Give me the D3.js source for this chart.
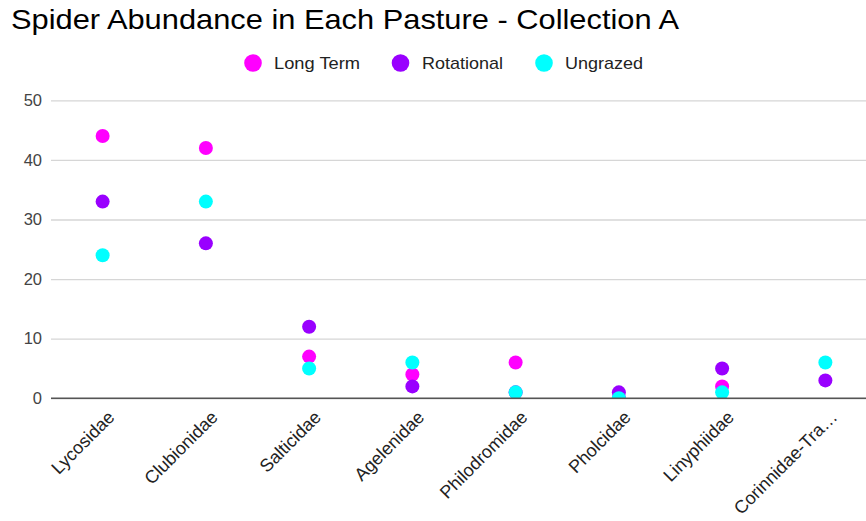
<!DOCTYPE html>
<html>
<head>
<meta charset="utf-8">
<script src="https://cdn.jsdelivr.net/npm/d3@7"></script>
<style>
  html, body { margin: 0; padding: 0; background: #fff; }
  svg { display: block; font-family: "Liberation Sans", Arial, sans-serif; }
</style>
</head>
<body>
<svg id="chart" width="866" height="521"></svg>
<script>
// Spider families (x categories)
const families = ["Lycosidae", "Clubionidae", "Salticidae", "Agelenidae",
                  "Philodromidae", "Pholcidae", "Linyphiidae", "Corinnidae-Tra\u2026"];

// Counts per pasture type (null = no record)
const longTerm   = [44, 42, 7, 4, 6, 0, 2, null];
const rotational = [33, 26, 12, 2, 1, 1, 5, 3];
const ungrazed   = [24, 33, 5, 6, 1, 0, 1, 6];

const seriesNames  = ["Long Term", "Rotational", "Ungrazed"];
const seriesColors = ["#ff00ff", "#9900ff", "#00ffff"];
const yTicks = [0, 10, 20, 30, 40, 50];

const series = [longTerm, rotational, ungrazed].map((vals, i) => ({
  name: seriesNames[i], color: seriesColors[i], values: vals
}));

const svg = d3.select("#chart");
const plot = { left: 51, right: 877, top: 100.3, bottom: 398.3 };

const x = d3.scaleBand().domain(families).range([plot.left, plot.right]);
const y = d3.scaleLinear().domain([0, 50]).range([plot.bottom, plot.top]);

// Title
svg.append("text")
  .attr("x", 11).attr("y", 28.5)
  .attr("font-size", 28.5)
  .attr("fill", "#000")
  .attr("textLength", 668)
  .attr("lengthAdjust", "spacingAndGlyphs")
  .text("Spider Abundance in Each Pasture - Collection A");

// Legend
const legendCx = [253, 400.5, 544];
const legendTx = [274, 422, 565];
const legendW  = [86, 81, 78];
const legend = svg.append("g");
series.forEach((s, i) => {
  legend.append("circle")
    .attr("cx", legendCx[i]).attr("cy", 63).attr("r", 8.8)
    .attr("fill", s.color);
  legend.append("text")
    .attr("x", legendTx[i]).attr("y", 69)
    .attr("font-size", 17).attr("fill", "#222")
    .attr("textLength", legendW[i])
    .attr("lengthAdjust", "spacingAndGlyphs")
    .text(s.name);
});

// Gridlines and y-axis labels
const yAxis = d3.axisLeft(y).tickValues(yTicks)
  .tickSize(-(plot.right - plot.left)).tickPadding(9);
const yg = svg.append("g").attr("transform", `translate(${plot.left},0)`).call(yAxis);
yg.select(".domain").remove();
yg.selectAll(".tick line").attr("stroke", "#d6d6d6").attr("stroke-width", 1.3);
yg.selectAll(".tick text")
  .attr("font-size", 16.5).attr("fill", "#444")
  .attr("font-family", "'Liberation Sans', Arial, sans-serif");

// Points, clipped to the plot area
svg.append("clipPath").attr("id", "plot-clip")
  .append("rect")
  .attr("x", plot.left).attr("y", plot.top - 20)
  .attr("width", plot.right - plot.left).attr("height", plot.bottom - plot.top + 20);

const pts = svg.append("g").attr("clip-path", "url(#plot-clip)");
series.forEach(s => {
  pts.selectAll(null)
    .data(families.map((f, j) => ({ f, v: s.values[j] })).filter(d => d.v !== null))
    .join("circle")
    .attr("cx", d => x(d.f) + x.bandwidth() / 2)
    .attr("cy", d => y(d.v))
    .attr("r", 7)
    .attr("fill", s.color);
});

// Baseline
svg.append("line")
  .attr("x1", plot.left).attr("x2", plot.right)
  .attr("y1", y(0)).attr("y2", y(0))
  .attr("stroke", "#555").attr("stroke-width", 1.6);

// Category labels, rotated
const xAxis = d3.axisBottom(x).tickSize(0).tickPadding(0);
const xg = svg.append("g").attr("transform", `translate(0,${plot.bottom})`).call(xAxis);
xg.select(".domain").remove();
xg.selectAll(".tick text")
  .attr("font-size", 18).attr("fill", "#222")
  .attr("font-family", "'Liberation Sans', Arial, sans-serif")
  .attr("text-anchor", "end")
  .attr("dy", 0)
  .attr("transform", "translate(13,20) rotate(-45)");
</script>
</body>
</html>
